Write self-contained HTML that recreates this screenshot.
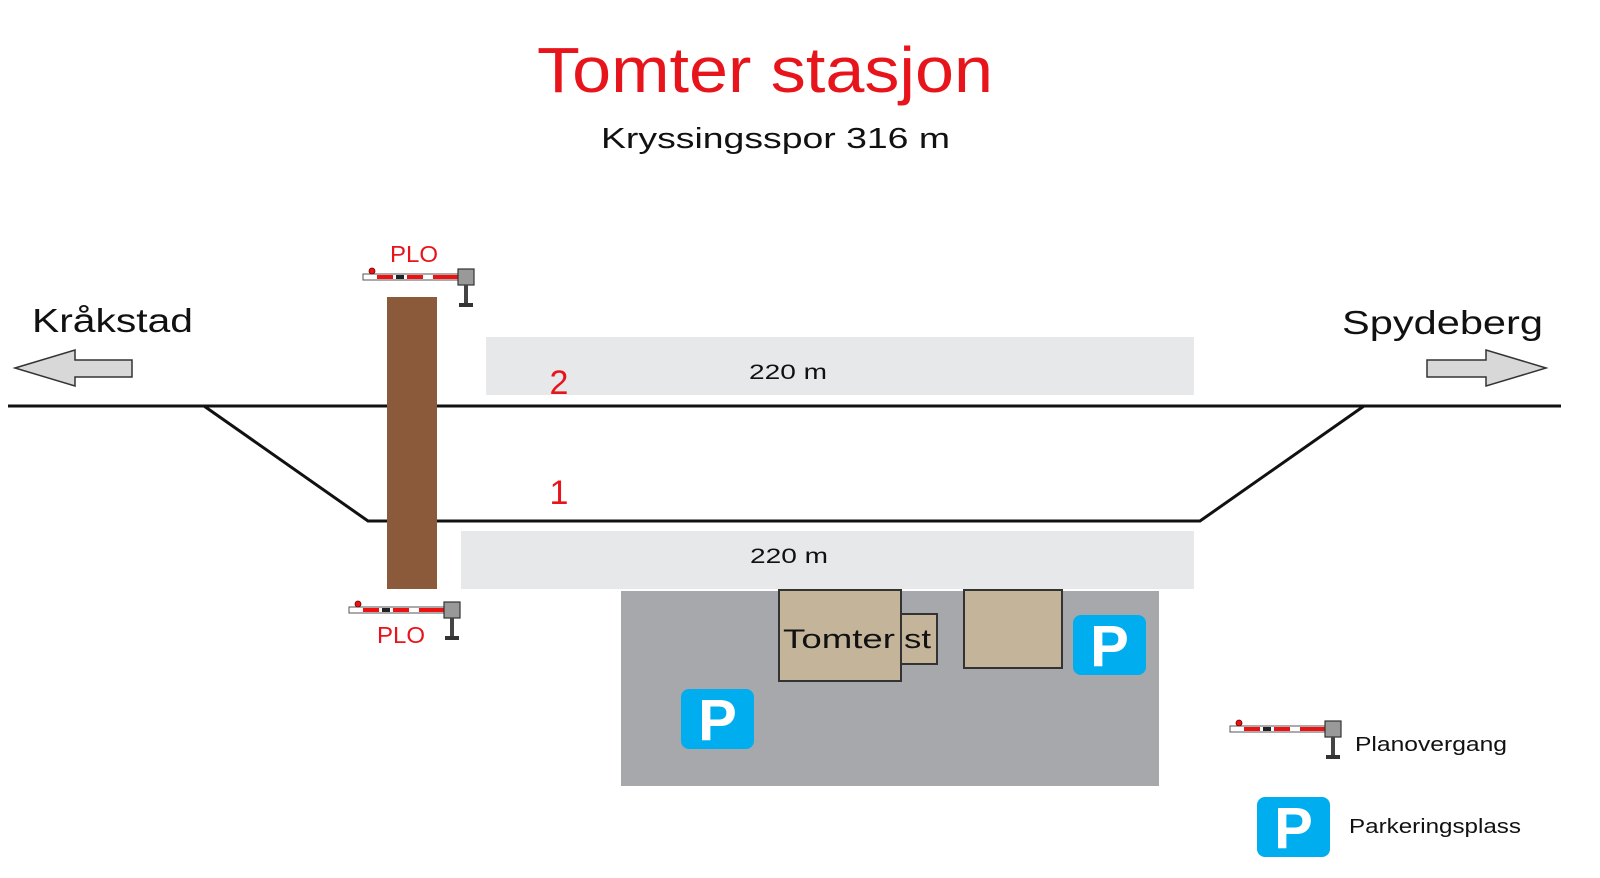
<!DOCTYPE html>
<html><head><meta charset="utf-8"><style>
html,body{margin:0;padding:0;background:#fff;}
svg{display:block;}
text{font-family:"Liberation Sans",sans-serif;}
</style></head><body>
<svg width="1600" height="878" viewBox="0 0 1600 878" xmlns="http://www.w3.org/2000/svg">
<defs>
<g id="bar">
  <rect x="0" y="3" width="95" height="6" fill="#fff" stroke="#555" stroke-width="1"/>
  <rect x="14" y="4" width="16" height="4" fill="#e11"/>
  <rect x="44" y="4" width="16" height="4" fill="#e11"/>
  <rect x="33" y="4" width="8" height="4" fill="#222"/>
  <rect x="70" y="4" width="16" height="4" fill="#e11"/>
  <rect x="86" y="4" width="9" height="4" fill="#e11"/>
  <circle cx="9" cy="0" r="3" fill="#e11" stroke="#600" stroke-width="0.8"/>
  <rect x="95" y="-2" width="16" height="16" fill="#999" stroke="#333" stroke-width="1.2"/>
  <rect x="101" y="14" width="4" height="20" fill="#444"/>
  <rect x="96" y="32" width="14" height="4" fill="#333"/>
</g>
<g id="P">
  <rect x="0" y="0" width="73" height="60" rx="8" fill="#00aeef"/>
  <text x="36.5" y="51" text-anchor="middle" font-size="58" font-weight="bold" fill="#fff">P</text>
</g>
</defs>
<text x="537" y="92" font-size="64" fill="#e8141c" textLength="456" lengthAdjust="spacingAndGlyphs">Tomter stasjon</text>
<text x="601" y="148" font-size="29" fill="#111" textLength="349" lengthAdjust="spacingAndGlyphs">Kryssingsspor 316 m</text>

<rect x="486" y="337" width="708" height="58" fill="#e7e8ea"/>
<rect x="461" y="531" width="733" height="58" fill="#e7e8ea"/>
<text x="749" y="379" font-size="21" fill="#111" textLength="78" lengthAdjust="spacingAndGlyphs">220 m</text>
<text x="750" y="563" font-size="21" fill="#111" textLength="78" lengthAdjust="spacingAndGlyphs">220 m</text>

<line x1="8" y1="406" x2="1561" y2="406" stroke="#111" stroke-width="3"/>
<polyline points="204,406 368,521 1200,521 1364,406" fill="none" stroke="#111" stroke-width="3"/>
<text x="559" y="394" text-anchor="middle" font-size="34" fill="#e8141c">2</text>
<text x="559" y="504" text-anchor="middle" font-size="34" fill="#e8141c">1</text>

<rect x="387" y="297" width="50" height="292" fill="#8a5a3a"/>

<rect x="621" y="591" width="538" height="195" fill="#a7a8ab"/>
<rect x="779" y="590" width="122" height="91" fill="#c4b59a" stroke="#333" stroke-width="2"/>
<rect x="901" y="614" width="36" height="50" fill="#c4b59a" stroke="#333" stroke-width="2"/>
<line x1="901" y1="614" x2="901" y2="664" stroke="#333" stroke-width="2"/>
<rect x="964" y="590" width="98" height="78" fill="#c4b59a" stroke="#333" stroke-width="2"/>
<text x="783" y="648" font-size="27" fill="#111" textLength="112" lengthAdjust="spacingAndGlyphs">Tomter</text>
<text x="904" y="648" font-size="27" fill="#111" textLength="27" lengthAdjust="spacingAndGlyphs">st</text>

<use href="#P" x="1073" y="615"/>
<use href="#P" x="681" y="689"/>
<use href="#P" x="1257" y="797"/>

<text x="32" y="332" font-size="33" fill="#111" textLength="161" lengthAdjust="spacingAndGlyphs">Kråkstad</text>
<text x="1342" y="334" font-size="33" fill="#111" textLength="201" lengthAdjust="spacingAndGlyphs">Spydeberg</text>
<polygon points="15,368 75,350 75,360 132,360 132,377 75,377 75,386" fill="#d8d8d8" stroke="#333" stroke-width="1.5"/>
<polygon points="1546,368 1486,350 1486,360 1427,360 1427,377 1486,377 1486,386" fill="#d8d8d8" stroke="#333" stroke-width="1.5"/>

<text x="390" y="262" font-size="23" fill="#e8141c" textLength="48" lengthAdjust="spacingAndGlyphs">PLO</text>
<use href="#bar" x="363" y="271"/>
<use href="#bar" x="349" y="604"/>
<text x="377" y="643" font-size="23" fill="#e8141c" textLength="48" lengthAdjust="spacingAndGlyphs">PLO</text>
<use href="#bar" x="1230" y="723"/>
<text x="1355" y="751" font-size="20" fill="#111" textLength="152" lengthAdjust="spacingAndGlyphs">Planovergang</text>
<text x="1349" y="833" font-size="20" fill="#111" textLength="172" lengthAdjust="spacingAndGlyphs">Parkeringsplass</text>
</svg>
</body></html>
